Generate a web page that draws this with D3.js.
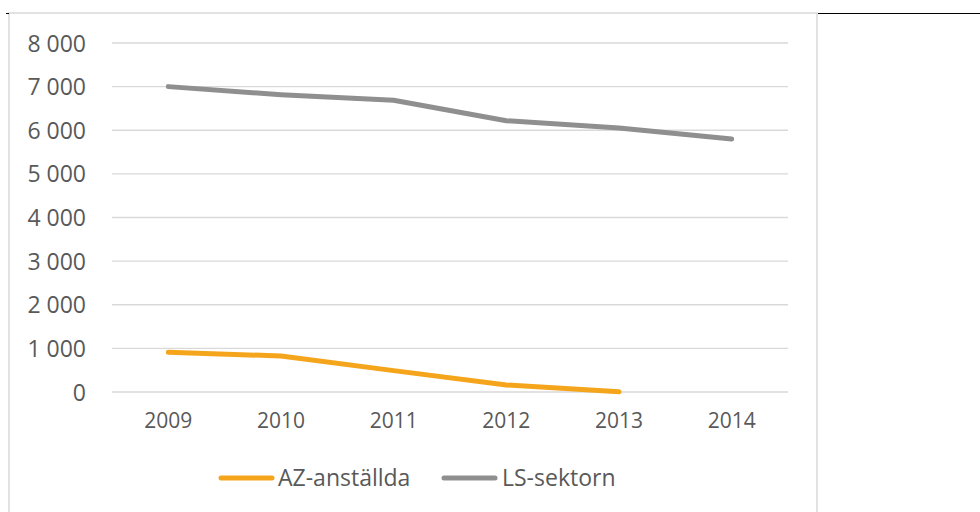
<!DOCTYPE html>
<html><head><meta charset="utf-8">
<script src="https://cdn.jsdelivr.net/npm/d3@7"></script>
<style>body{margin:0;background:#fff}svg{display:block}</style>
</head><body>
<svg id="c" width="980" height="512"></svg>
<script>
const years = ["2009","2010","2011","2012","2013","2014"];
const azValues = [910, 825, 490, 160, 5, null];
const lsValues = [7000, 6815, 6686, 6219, 6052, 5800];
const yTicks = [0,1000,2000,3000,4000,5000,6000,7000,8000];
const seriesNames = ["AZ-anställda","LS-sektorn"];
const seriesColors = ["#F5A51C","#8F8F8F"];

const svg = d3.select("#c");
const font = "'Open Sans', sans-serif";
const textColor = "#595959";

// chart frame
svg.append("rect").attr("x",9).attr("y",13).attr("width",808).attr("height",510)
  .attr("fill","none").attr("stroke","#d9d9d9").attr("stroke-width",1.5);
svg.append("line").attr("x1",818).attr("x2",980).attr("y1",13.5).attr("y2",13.5)
  .attr("stroke","#000").attr("stroke-width",1);
svg.append("line").attr("x1",6).attr("x2",9).attr("y1",13.5).attr("y2",13.5)
  .attr("stroke","#000").attr("stroke-width",1);

const x = d3.scaleBand().domain(years).range([112,788]);
const y = d3.scaleLinear().domain([0,8000]).range([392,43]);
const fmt = v => d3.format(",")(v).replace(/,/g," ");

// gridlines
svg.append("g").selectAll("line").data(yTicks).join("line")
  .attr("x1",112).attr("x2",788).attr("y1",d=>y(d)).attr("y2",d=>y(d))
  .attr("stroke","#d9d9d9").attr("stroke-width",1.3);

// y axis
const yAxis = svg.append("g").attr("transform","translate(86,0)")
  .call(d3.axisLeft(y).tickValues(yTicks).tickFormat(fmt).tickSize(0).tickPadding(0));
yAxis.select(".domain").remove();
yAxis.selectAll("text").attr("font-family",font).attr("font-size","23px").attr("fill",textColor).attr("dy","0.35em");

// x axis
const xAxis = svg.append("g").attr("transform","translate(0,392)")
  .call(d3.axisBottom(x).tickSize(0).tickPadding(0));
xAxis.select(".domain").remove();
xAxis.selectAll("text").attr("font-family",font).attr("font-size","21px").attr("fill",textColor).attr("dy","1.7em");

const cx = d => x(d) + x.bandwidth()/2;
const line = d3.line().defined(d=>d.v!=null).x(d=>cx(d.year)).y(d=>y(d.v));
[azValues, lsValues].forEach((vals,i)=>{
  svg.append("path").datum(years.map((yr,j)=>({year:yr,v:vals[j]})))
    .attr("d",line).attr("fill","none").attr("stroke",seriesColors[i])
    .attr("stroke-width",5).attr("stroke-linecap","round").attr("stroke-linejoin","round");
});

// legend
const legendItems = [{x:219, tx:278},{x:442, tx:502}];
legendItems.forEach((p,i)=>{
  svg.append("line").attr("x1",p.x+2).attr("x2",p.x+53).attr("y1",478).attr("y2",478)
    .attr("stroke",seriesColors[i]).attr("stroke-width",5).attr("stroke-linecap","round");
  svg.append("text").attr("x",p.tx).attr("y",478).attr("dy","0.35em")
    .attr("font-family",font).attr("font-size","23px").attr("fill",textColor).text(seriesNames[i]);
});
</script>
</body></html>
